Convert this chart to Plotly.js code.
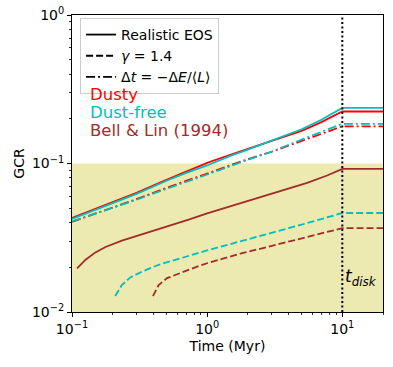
<!DOCTYPE html>
<html>
<head>
<meta charset="utf-8">
<script src="https://cdn.plot.ly/plotly-3.0.1.min.js"></script>
<style>
  html, body { margin: 0; padding: 0; background: #fff; }
  #chart { width: 393px; height: 367px; }
</style>
</head>
<body>
<div id="chart"></div>
<script>
// realistic EOS runs (Myr, GCR)
const tReal = [0.1, 0.2, 0.3, 0.5, 0.7, 1, 1.5, 2, 3, 5, 7, 10, 20];
const dustyReal = [0.043, 0.055, 0.0635, 0.0775, 0.088, 0.101, 0.115, 0.125, 0.142, 0.166, 0.19, 0.224, 0.224];
const dustFreeReal = [0.0423, 0.054, 0.0625, 0.0765, 0.0865, 0.097, 0.113, 0.124, 0.142, 0.170, 0.197, 0.237, 0.237];

// dt = -dE/<L> runs
const tCool = [0.1, 0.2, 0.3, 0.5, 0.7, 1, 2, 3, 5, 7, 10, 20];
const dustyCool = [0.0405, 0.0505, 0.0575, 0.0685, 0.0765, 0.086, 0.107, 0.12, 0.142, 0.158, 0.178, 0.178];
const dustFreeCool = [0.0407, 0.050, 0.057, 0.0675, 0.075, 0.0843, 0.106, 0.12, 0.145, 0.163, 0.185, 0.185];

// Bell & Lin, realistic EOS
const tBL = [0.109, 0.126, 0.149, 0.177, 0.234, 0.311, 0.413, 0.549, 0.73, 1, 1.76, 3.11, 5.49, 7.72, 10, 20];
const blReal = [0.0197, 0.0225, 0.0252, 0.0274, 0.0302, 0.0327, 0.0355, 0.0386, 0.0419, 0.0462, 0.0542, 0.0634, 0.074, 0.083, 0.092, 0.092];

// gamma = 1.4 runs
const tDFGamma = [0.209, 0.234, 0.27, 0.329, 0.438, 0.615, 1, 1.76, 3.11, 5.49, 10, 20];
const dustFreeGamma = [0.0128, 0.0152, 0.0171, 0.0187, 0.0208, 0.0229, 0.026, 0.0299, 0.0343, 0.0397, 0.0464, 0.0464];
const tBLGamma = [0.397, 0.438, 0.504, 0.615, 0.817, 1, 1.76, 3.11, 5.49, 10, 20];
const blGamma = [0.0128, 0.0152, 0.0169, 0.0182, 0.020, 0.0213, 0.0247, 0.0281, 0.032, 0.0367, 0.0367];

const tDisk = 10;
const shadeLow = 0.01, shadeHigh = 0.1;
const xSpan = [0.1, 20];

const xTicks = [0.1, 1, 10];
const xTickText = ['10<sup>−1</sup>', '10<sup>0</sup>', '10<sup>1</sup>'];
const yTicks = [0.01, 0.1, 1];
const yTickText = ['10<sup>−2</sup>', '10<sup>−1</sup>', '10<sup>0</sup>'];

const RED = '#ff0000', CYAN = '#00bfbf', BROWN = '#a52a2a';
const DASH = '7px,3px';
const DASHDOT = '9px,3px,2px,3px';

// minor ticks 2..9 per decade
function minorTicks(lo, hi) {
  const out = [];
  for (let e = lo; e <= hi; e++) {
    for (let m = 2; m <= 9; m++) out.push(m * Math.pow(10, e));
  }
  return out;
}

function line(x, y, color, dash) {
  return {
    x: x, y: y, type: 'scatter', mode: 'lines', showlegend: false,
    hoverinfo: 'skip',
    line: { color: color, width: 1.8, dash: dash }
  };
}

function legendEntry(name, dash) {
  return {
    x: [1e-5], y: [1e-5], type: 'scatter', mode: 'lines', name: name,
    line: { color: 'black', width: 1.8, dash: dash }
  };
}

const traces = [
  {
    x: [xSpan[0], xSpan[1], xSpan[1], xSpan[0]],
    y: [shadeLow, shadeLow, shadeHigh, shadeHigh],
    type: 'scatter', mode: 'none', fill: 'toself',
    fillcolor: 'rgb(236,233,177)', showlegend: false, hoverinfo: 'skip'
  },
  line(tBLGamma, blGamma, BROWN, DASH),
  line(tDFGamma, dustFreeGamma, CYAN, DASH),
  line(tBL, blReal, BROWN, 'solid'),
  line(tCool, dustyCool, RED, DASHDOT),
  line(tCool, dustFreeCool, CYAN, DASHDOT),
  line(tReal, dustyReal, RED, 'solid'),
  line(tReal, dustFreeReal, CYAN, 'solid'),
  {
    x: [tDisk, tDisk], y: [0.01, 1], type: 'scatter', mode: 'lines',
    showlegend: false, hoverinfo: 'skip',
    line: { color: 'black', width: 2, dash: '2px,2.5px' }
  },
  legendEntry('Realistic EOS', 'solid'),
  legendEntry('<i>γ</i> = 1.4', DASH),
  legendEntry('Δ<i>t</i> = −Δ<i>E</i>/⟨<i>L</i>⟩', DASHDOT)
];

const axisCommon = {
  type: 'log',
  showgrid: false,
  zeroline: false,
  showline: true,
  linecolor: 'black',
  linewidth: 1,
  mirror: true,
  ticks: 'outside',
  ticklen: 4,
  tickwidth: 1,
  tickcolor: 'black',
  tickmode: 'array',
  tickfont: { size: 14, color: 'black' }
};

const layout = {
  width: 393,
  height: 367,
  margin: { l: 72, r: 10, t: 15, b: 55 },
  paper_bgcolor: 'white',
  plot_bgcolor: 'white',
  font: { family: 'DejaVu Sans', color: 'black', size: 14 },
  xaxis: Object.assign({}, axisCommon, {
    range: [-1, Math.log10(20)],
    tickvals: xTicks,
    ticktext: xTickText,
    minor: { tickmode: 'array', tickvals: minorTicks(-1, 1), ticks: 'outside', ticklen: 2, tickwidth: 0.8, tickcolor: 'black', showgrid: false },
    title: { text: 'Time (Myr)', font: { size: 14 }, standoff: 5 }
  }),
  yaxis: Object.assign({}, axisCommon, {
    range: [-2, 0],
    tickvals: yTicks,
    ticktext: yTickText,
    minor: { tickmode: 'array', tickvals: minorTicks(-2, -1), ticks: 'outside', ticklen: 2, tickwidth: 0.8, tickcolor: 'black', showgrid: false },
    title: { text: 'GCR', font: { size: 14 }, standoff: 4 }
  }),
  showlegend: true,
  legend: {
    x: 0.026, y: 0.99, xanchor: 'left', yanchor: 'top',
    bgcolor: 'white', bordercolor: '#cccccc', borderwidth: 1,
    font: { size: 14, color: 'black' },
    itemwidth: 30,
    tracegroupgap: 0
  },
  annotations: [
    { text: 'Dusty', x: 0.05, y: 0.733, color: RED },
    { text: 'Dust-free', x: 0.05, y: 0.672, color: CYAN },
    { text: 'Bell & Lin (1994)', x: 0.05, y: 0.611, color: BROWN }
  ].map(a => ({
    text: a.text, xref: 'paper', yref: 'paper', x: a.x, y: a.y,
    xanchor: 'left', yanchor: 'middle', showarrow: false,
    font: { size: 16.5, color: a.color }
  })).concat([{
    text: '<i>t<sub>disk</sub></i>', xref: 'x', yref: 'paper',
    x: Math.log10(tDisk), y: 0.115, xanchor: 'left', yanchor: 'middle',
    xshift: 1, showarrow: false, font: { size: 17, color: 'black' }
  }])
};

Plotly.newPlot('chart', traces, layout, { displayModeBar: false, staticPlot: true });
</script>
</body>
</html>
